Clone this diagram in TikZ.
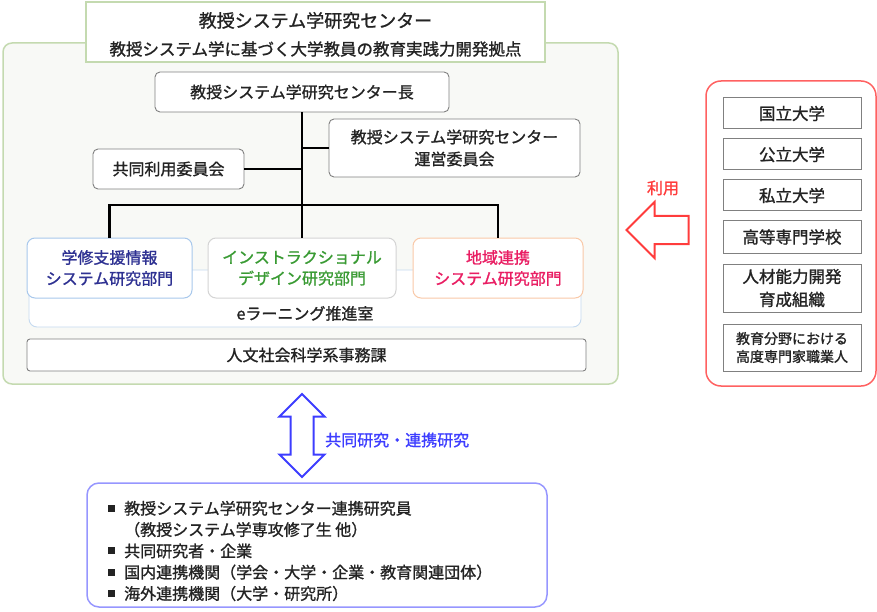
\documentclass[tikz,border=0pt]{standalone}
\usepackage{fontspec}
\setmainfont{Noto Sans CJK JP}[BoldFont={Noto Sans CJK JP},BoldFeatures={FakeBold=1.2}]
\usepackage{xcolor}
\usetikzlibrary{arrows.meta,positioning,shapes.arrows}

\definecolor{ink}{RGB}{35,35,35}
\definecolor{frameGreen}{RGB}{196,218,176}
\definecolor{paleBack}{RGB}{248,249,246}
\definecolor{boxGray}{RGB}{128,128,128}
\definecolor{lmsBlue}{RGB}{168,200,236}
\definecolor{lmsText}{RGB}{46,49,146}
\definecolor{idGray}{RGB}{212,212,212}
\definecolor{idText}{RGB}{58,155,52}
\definecolor{regionOrange}{RGB}{249,201,168}
\definecolor{regionText}{RGB}{233,30,99}
\definecolor{elearnBlue}{RGB}{197,218,240}
\definecolor{userRed}{RGB}{255,97,97}
\definecolor{arrowRed}{RGB}{255,60,60}
\definecolor{collabBlue}{RGB}{61,61,255}
\definecolor{partnerBlue}{RGB}{150,150,255}

\newcommand{\memberitem}{\makebox[16pt][l]{\rule[2.5pt]{7pt}{7pt}}}

\begin{document}
\begin{tikzpicture}[
  x=1pt, y=-1pt,
  font=\fontsize{16}{21}\selectfont\bfseries,
  txt/.style={inner sep=0pt,align=center,text=ink},
  box/.style={rectangle,rounded corners=5pt,draw=boxGray,fill=white,line width=0.9pt,
              align=center,inner sep=0pt,text=ink},
  dept/.style={box,minimum height=60pt,rounded corners=8pt,line width=1pt},
  unibox/.style={rectangle,draw=boxGray,fill=white,line width=1pt,minimum width=138pt,
                 align=center,inner sep=0pt,text=ink,font=\fontsize{16.5}{23}\selectfont\bfseries},
  orgline/.style={line width=2.4pt,black},
  blockarrow/.style={fill=white,line width=2pt}
]
  \useasboundingbox (0,0) rectangle (877,612);

  \node[draw=frameGreen,fill=paleBack,rounded corners=9pt,line width=1.5pt,
        minimum width=615pt,minimum height=341pt] (center) at (310.5,213.5) {};
  \node[draw=frameGreen,fill=white,line width=1.5pt,minimum width=459pt,minimum height=60pt,
        txt,font=\fontsize{16.5}{28}\selectfont\bfseries] (title) at (315.5,32)
        {{\fontsize{18}{28}\selectfont\rule{0pt}{20pt}教授システム学研究センター}\\
         教授システム学に基づく大学教員の教育実践力開発拠点};

  \node[box,minimum width=294pt,minimum height=40pt] (director) at (302,92) {教授システム学研究センター長};
  \node[box,minimum width=251pt,minimum height=58pt,font=\fontsize{16}{22}\selectfont\bfseries] (steering) at (454.5,148)
        {教授システム学研究センター\\運営委員会};
  \node[box,minimum width=151pt,minimum height=40pt] (jointuse) at (168.5,169) {共同利用委員会};

  \node[box,draw=elearnBlue,rounded corners=8pt,minimum width=552pt,minimum height=57pt] (elearn) at (305,298.5) {};
  \node[txt,at=(elearn.south),yshift=14pt] (elearnlabel) {eラーニング推進室};

  \node[dept,draw=lmsBlue,text=lmsText,minimum width=165pt] (lms) at (109.5,268) {学修支援情報\\システム研究部門};
  \node[dept,draw=idGray,text=idText,minimum width=188pt] (design) at (302,268) {インストラクショナル\\デザイン研究部門};
  \node[dept,draw=regionOrange,text=regionText,minimum width=170pt] (region) at (498,268) {地域連携\\システム研究部門};

  \node[box,rounded corners=3pt,minimum width=559pt,minimum height=32pt] (office) at (306.5,355) {人文社会科学系事務課};

  \coordinate (bar) at (302,205);
  \draw[orgline] (director.south) -- (design.north);
  \draw[orgline] (steering.west) -- (steering.west -| director.south);
  \draw[orgline] (jointuse.east) -- (jointuse.east -| director.south);
  \draw[orgline] (lms.north) |- (bar) -| (region.north);

  \node[draw=userRed,rounded corners=15pt,line width=1.5pt,minimum width=170pt,minimum height=305pt] (users) at (791,233.5) {};
  \node[unibox,minimum height=31pt] (national) at (792,113.5) {国立大学};
  \node[unibox,minimum height=31pt,below=9pt of national] (public) {公立大学};
  \node[unibox,minimum height=31pt,below=9pt of public] (private) {私立大学};
  \node[unibox,minimum height=32pt,below=9pt of private] (kosen) {高等専門学校};
  \node[unibox,minimum height=48pt,below=10pt of kosen] (hrdev) {人材能力開発\\育成組織};
  \node[unibox,minimum height=47pt,below=11pt of hrdev,font=\fontsize{14}{18}\selectfont\bfseries] (profs) {教育分野における\\高度専門家職業人};

  \node[single arrow,draw=arrowRed,blockarrow,inner xsep=0pt,inner ysep=13pt,single arrow head extend=14pt,
        minimum height=62pt,shape border rotate=180] (usearrow) at (664.5,230) {};
  \node[txt,text=arrowRed] (uselabel) at (663,188) {利用};

  \node[double arrow,draw=collabBlue,blockarrow,inner xsep=10.5pt,inner ysep=0pt,double arrow head extend=11pt,
        minimum height=83pt,shape border rotate=90] (collabarrow) at (302,435.5) {};
  \node[txt,text=collabBlue,anchor=west] (collablabel) at (325,440) {共同研究・連携研究};

  \node[draw=partnerBlue,rounded corners=12pt,line width=1.5pt,minimum width=460pt,minimum height=124pt] (partners) at (317,545) {};
  \node[txt,align=left,anchor=west,font=\fontsize{16}{21.3}\selectfont\bfseries] (members) at (108,551)
        {\memberitem 教授システム学研究センター連携研究員\\
         \hspace*{16pt}（教授システム学専攻修了生 他）\\
         \memberitem 共同研究者・企業\\
         \memberitem 国内連携機関（学会・大学・企業・教育関連団体）\\
         \memberitem 海外連携機関（大学・研究所）};
\end{tikzpicture}
\end{document}
